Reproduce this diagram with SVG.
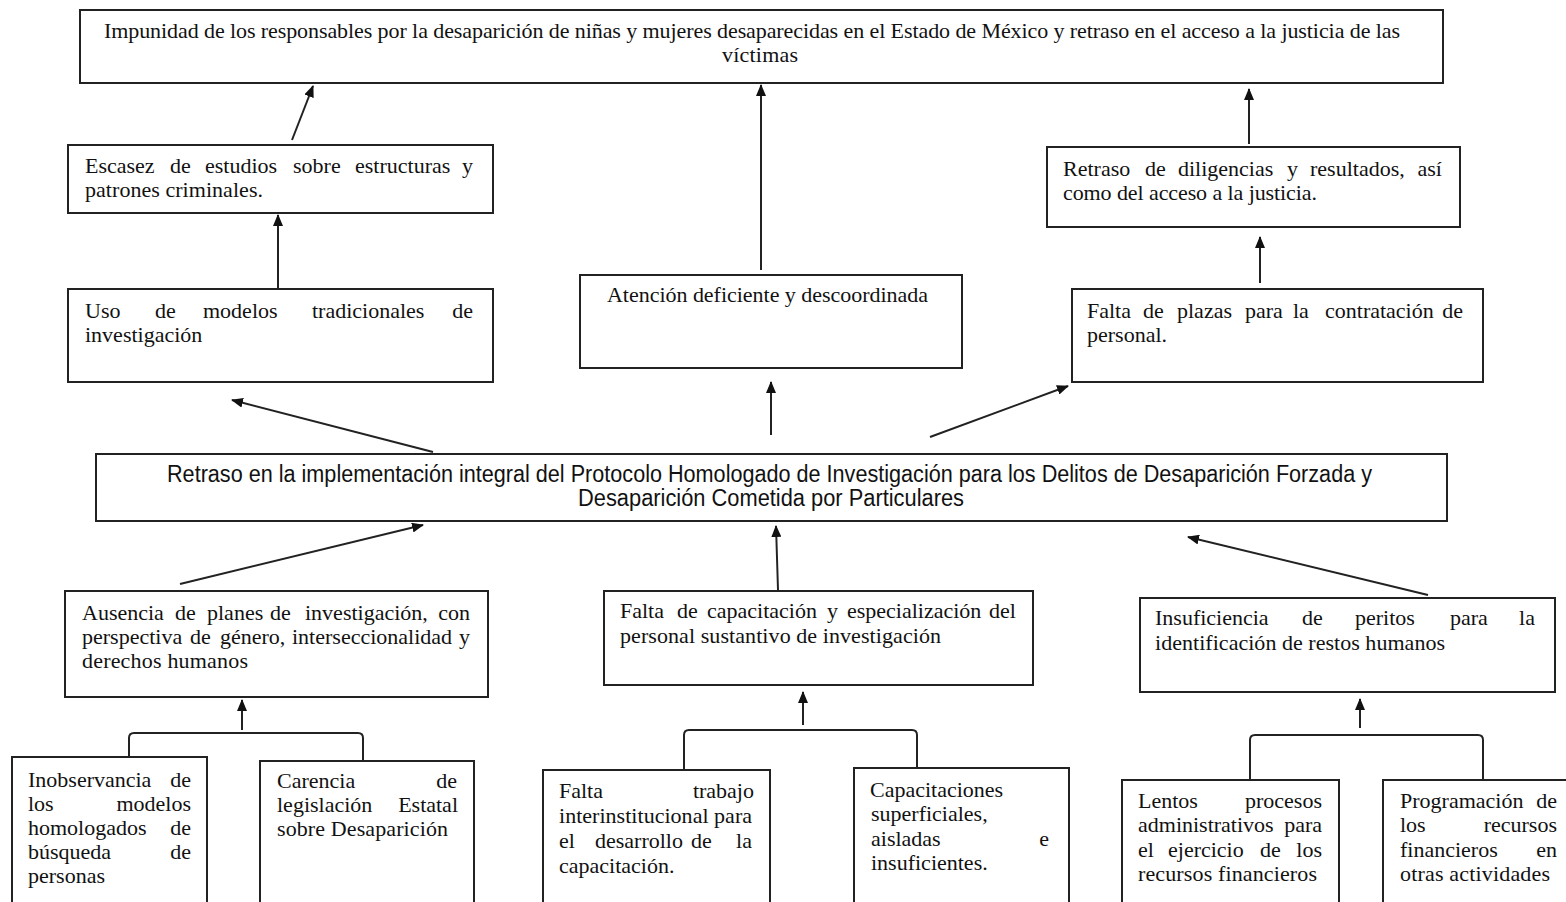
<svg xmlns="http://www.w3.org/2000/svg" width="1566" height="902" viewBox="0 0 1566 902">
<style>
.box{fill:#fff;stroke:#222;stroke-width:2}
.t{font-family:"Liberation Serif","Times New Roman",serif;font-size:22px;fill:#111}
.e{text-anchor:end}
.s{font-family:"Liberation Sans",Arial,sans-serif;font-size:23px;fill:#111}
.c{fill:none;stroke:#222;stroke-width:2}
.a{fill:none;stroke:#222;stroke-width:2;marker-end:url(#ah)}
</style>
<defs>
<marker id="ah" markerUnits="userSpaceOnUse" markerWidth="12" markerHeight="10" refX="11" refY="5" orient="auto">
<path d="M0,0 L12,5 L0,10 z" fill="#111"/>
</marker>
</defs>
<rect width="1566" height="902" fill="#fff"/>

<g id="connectors">
<line class="a" x1="292" y1="140" x2="313" y2="86"/>
<line class="a" x1="761" y1="270" x2="761" y2="85"/>
<line class="a" x1="1249" y1="144" x2="1249" y2="89"/>
<line class="a" x1="278" y1="289" x2="278" y2="215"/>
<line class="a" x1="1260" y1="283" x2="1260" y2="237"/>
<line class="a" x1="433" y1="452" x2="232" y2="400"/>
<line class="a" x1="771" y1="435" x2="771" y2="382"/>
<line class="a" x1="930" y1="437" x2="1068" y2="386"/>
<line class="a" x1="180" y1="584" x2="423" y2="525"/>
<line class="a" x1="778" y1="590" x2="776" y2="526"/>
<line class="a" x1="1428" y1="595" x2="1188" y2="537"/>
<line class="a" x1="242" y1="730" x2="242" y2="700"/>
<line class="a" x1="803" y1="725" x2="803" y2="692"/>
<line class="a" x1="1360" y1="728" x2="1360" y2="699"/>
<path class="c" d="M129,758 V738 Q129,733 134,733 H358 Q363,733 363,738 V761"/>
<path class="c" d="M684,770 V735 Q684,730 689,730 H912 Q917,730 917,735 V768"/>
<path class="c" d="M1250,780 V740 Q1250,735 1255,735 H1478 Q1483,735 1483,740 V780"/>
</g>

<g id="n-top">
<rect class="box" x="80" y="10" width="1363" height="73"/>
<text class="t" x="104" y="38" font-size="21" textLength="1296">Impunidad de los responsables por la desaparición de niñas y mujeres desaparecidas en el Estado de México y retraso en el acceso a la justicia de las</text>
<text class="t" x="722" y="62" font-size="21" textLength="76">víctimas</text>
</g>

<g id="n-escasez">
<rect class="box" x="68" y="145" width="425" height="68"/>
<text class="t" x="85" y="173">Escasez</text>
<text class="t" x="170" y="173">de</text>
<text class="t" x="205" y="173">estudios</text>
<text class="t" x="293" y="173">sobre</text>
<text class="t" x="355" y="173">estructuras</text>
<text class="t e" x="473" y="173">y</text>
<text class="t" x="85" y="197" textLength="178">patrones criminales.</text>
</g>

<g id="n-uso">
<rect class="box" x="68" y="289" width="425" height="93"/>
<text class="t" x="85" y="318">Uso</text>
<text class="t" x="155" y="318">de</text>
<text class="t" x="203" y="318">modelos</text>
<text class="t" x="312" y="318">tradicionales</text>
<text class="t e" x="473" y="318">de</text>
<text class="t" x="85" y="342">investigación</text>
</g>

<g id="n-atencion">
<rect class="box" x="580" y="275" width="382" height="93"/>
<text class="t" x="607" y="302" textLength="321">Atención deficiente y descoordinada</text>
</g>

<g id="n-retraso-diligencias">
<rect class="box" x="1047" y="147" width="413" height="80"/>
<text class="t" x="1063" y="176">Retraso</text>
<text class="t" x="1145" y="176">de</text>
<text class="t" x="1178" y="176">diligencias</text>
<text class="t" x="1287" y="176">y</text>
<text class="t" x="1310" y="176">resultados,</text>
<text class="t e" x="1442" y="176">así</text>
<text class="t" x="1063" y="200" textLength="254">como del acceso a la justicia.</text>
</g>

<g id="n-plazas">
<rect class="box" x="1072" y="289" width="411" height="93"/>
<text class="t" x="1087" y="318">Falta</text>
<text class="t" x="1143" y="318">de</text>
<text class="t" x="1177" y="318">plazas</text>
<text class="t" x="1245" y="318">para</text>
<text class="t" x="1293" y="318">la</text>
<text class="t" x="1325" y="318">contratación</text>
<text class="t e" x="1463" y="318">de</text>
<text class="t" x="1087" y="342">personal.</text>
</g>

<g id="n-central">
<rect class="box" x="96" y="454" width="1351" height="67"/>
<text class="s" x="167" y="482" textLength="1205" lengthAdjust="spacingAndGlyphs">Retraso en la implementación integral del Protocolo Homologado de Investigación para los Delitos de Desaparición Forzada y</text>
<text class="s" x="578" y="506" textLength="386" lengthAdjust="spacingAndGlyphs">Desaparición Cometida por Particulares</text>
</g>

<g id="n-ausencia">
<rect class="box" x="65" y="591" width="423" height="106"/>
<text class="t" x="82" y="620">Ausencia</text>
<text class="t" x="175" y="620">de</text>
<text class="t" x="207" y="620">planes</text>
<text class="t" x="270" y="620">de</text>
<text class="t" x="305" y="620">investigación,</text>
<text class="t e" x="470" y="620">con</text>
<text class="t" x="82" y="644">perspectiva</text>
<text class="t" x="190" y="644">de</text>
<text class="t" x="220" y="644">género,</text>
<text class="t" x="292" y="644">interseccionalidad</text>
<text class="t e" x="470" y="644">y</text>
<text class="t" x="82" y="668" textLength="166">derechos humanos</text>
</g>

<g id="n-capacitacion">
<rect class="box" x="604" y="591" width="429" height="94"/>
<text class="t" x="620" y="618">Falta</text>
<text class="t" x="677" y="618">de</text>
<text class="t" x="707" y="618">capacitación</text>
<text class="t" x="827" y="618">y</text>
<text class="t" x="847" y="618">especialización</text>
<text class="t e" x="1016" y="618">del</text>
<text class="t" x="620" y="643" textLength="321">personal sustantivo de investigación</text>
</g>

<g id="n-insuficiencia">
<rect class="box" x="1140" y="598" width="415" height="94"/>
<text class="t" x="1155" y="625">Insuficiencia</text>
<text class="t" x="1302" y="625">de</text>
<text class="t" x="1355" y="625">peritos</text>
<text class="t" x="1450" y="625">para</text>
<text class="t e" x="1535" y="625">la</text>
<text class="t" x="1155" y="650" textLength="290">identificación de restos humanos</text>
</g>

<g id="n-inobservancia">
<rect class="box" x="12" y="757" width="195" height="160"/>
<text class="t" x="28" y="787">Inobservancia</text>
<text class="t e" x="191" y="787">de</text>
<text class="t" x="28" y="811">los</text>
<text class="t e" x="191" y="811">modelos</text>
<text class="t" x="28" y="835">homologados</text>
<text class="t e" x="191" y="835">de</text>
<text class="t" x="28" y="859">búsqueda</text>
<text class="t e" x="191" y="859">de</text>
<text class="t" x="28" y="883">personas</text>
</g>

<g id="n-carencia">
<rect class="box" x="260" y="761" width="214" height="160"/>
<text class="t" x="277" y="788">Carencia</text>
<text class="t e" x="457" y="788">de</text>
<text class="t" x="277" y="812">legislación</text>
<text class="t e" x="458" y="812">Estatal</text>
<text class="t" x="277" y="836" textLength="171">sobre Desaparición</text>
</g>

<g id="n-falta-trabajo">
<rect class="box" x="543" y="770" width="227" height="150"/>
<text class="t" x="559" y="798">Falta</text>
<text class="t e" x="754" y="798">trabajo</text>
<text class="t" x="559" y="823" textLength="193">interinstitucional para</text>
<text class="t" x="559" y="848">el</text>
<text class="t" x="595" y="848">desarrollo</text>
<text class="t" x="691" y="848">de</text>
<text class="t e" x="752" y="848">la</text>
<text class="t" x="559" y="873">capacitación.</text>
</g>

<g id="n-capacitaciones">
<rect class="box" x="854" y="768" width="215" height="150"/>
<text class="t" x="870" y="797">Capacitaciones</text>
<text class="t" x="871" y="821">superficiales,</text>
<text class="t" x="871" y="846">aisladas</text>
<text class="t e" x="1049" y="846">e</text>
<text class="t" x="871" y="870">insuficientes.</text>
</g>

<g id="n-lentos">
<rect class="box" x="1122" y="780" width="217" height="140"/>
<text class="t" x="1138" y="808">Lentos</text>
<text class="t e" x="1322" y="808">procesos</text>
<text class="t" x="1138" y="832">administrativos</text>
<text class="t e" x="1322" y="832">para</text>
<text class="t" x="1138" y="857">el</text>
<text class="t" x="1168" y="857">ejercicio</text>
<text class="t" x="1260" y="857">de</text>
<text class="t e" x="1322" y="857">los</text>
<text class="t" x="1138" y="881" textLength="179">recursos financieros</text>
</g>

<g id="n-programacion">
<rect class="box" x="1383" y="780" width="190" height="140"/>
<text class="t" x="1400" y="808">Programación</text>
<text class="t e" x="1557" y="808">de</text>
<text class="t" x="1400" y="832">los</text>
<text class="t e" x="1557" y="832">recursos</text>
<text class="t" x="1400" y="857">financieros</text>
<text class="t e" x="1557" y="857">en</text>
<text class="t" x="1400" y="881" textLength="150">otras actividades</text>
</g>
</svg>
